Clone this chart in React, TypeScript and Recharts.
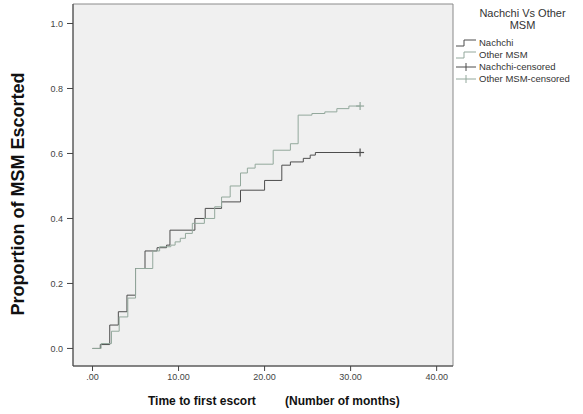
import React from "react";
import { LineChart, Line, XAxis, YAxis, ReferenceArea } from "recharts";

// tick values
const xTicks = [0, 10, 20, 30, 40];
const yTicks = [0, 0.2, 0.4, 0.6, 0.8, 1.0];

// Kaplan-Meier steps (months, cumulative proportion)
const nachchiMonths = [0, 0.9, 2.0, 3.0, 4.0, 5.0, 6.1, 7.5, 8.6, 9.0, 11.9, 13.1, 15.0, 17.2, 20.0, 22.0, 23.0, 24.5, 25.3, 25.9, 31.1];
const nachchiProp = [0, 0.012, 0.072, 0.113, 0.164, 0.246, 0.3, 0.31, 0.318, 0.364, 0.4, 0.431, 0.451, 0.487, 0.517, 0.564, 0.574, 0.585, 0.595, 0.603, 0.603];

const otherMonths = [0, 1.0, 2.2, 3.1, 4.1, 5.0, 7.0, 7.8, 9.1, 9.6, 10.2, 10.8, 11.6, 13.0, 14.2, 15.0, 16.0, 17.2, 18.0, 18.9, 21.0, 23.0, 23.9, 25.5, 27.0, 28.4, 29.8, 31.1];
const otherProp = [0, 0.015, 0.053, 0.097, 0.155, 0.246, 0.3, 0.313, 0.318, 0.328, 0.339, 0.354, 0.385, 0.4, 0.436, 0.466, 0.5, 0.54, 0.555, 0.567, 0.61, 0.63, 0.718, 0.723, 0.728, 0.738, 0.746, 0.746];

const nachchiData = nachchiMonths.map((m, i) => ({ month: m, value: nachchiProp[i] }));
const otherData = otherMonths.map((m, i) => ({ month: m, value: otherProp[i] }));

const NACHCHI = "#4d4d4d";
const OTHER = "#93a89c";
const FONT = "'Liberation Sans', Arial, sans-serif";

const censorDot = (color: string, last: number) => (props: any) => {
  const { cx, cy, index } = props;
  if (index !== last) return <g key={`d-${index}`} />;
  return (
    <g key={`d-${index}`} stroke={color} strokeWidth={1.2}>
      <line x1={cx - 4} x2={cx + 4} y1={cy} y2={cy} />
      <line x1={cx} x2={cx} y1={cy - 4} y2={cy + 4} />
    </g>
  );
};

function StepIcon({ color }: { color: string }) {
  return (
    <svg width={22} height={10} style={{ verticalAlign: "middle" }}>
      <polyline points="0,8 8,8 8,2 20,2" fill="none" stroke={color} strokeWidth={1} />
    </svg>
  );
}

function PlusIcon({ color }: { color: string }) {
  return (
    <svg width={22} height={10} style={{ verticalAlign: "middle" }}>
      <line x1={0} x2={20} y1={5} y2={5} stroke={color} strokeWidth={1} />
      <line x1={10} x2={10} y1={1} y2={9} stroke={color} strokeWidth={1} />
    </svg>
  );
}

const legendItems = [
  { label: "Nachchi", icon: <StepIcon color={NACHCHI} /> },
  { label: "Other MSM", icon: <StepIcon color={OTHER} /> },
  { label: "Nachchi-censored", icon: <PlusIcon color={NACHCHI} /> },
  { label: "Other MSM-censored", icon: <PlusIcon color={OTHER} /> },
];

export default function App() {
  return (
    <div style={{ position: "absolute", left: 0, top: 0, width: 583, height: 414, background: "#fff", fontFamily: FONT }}>
      <LineChart
        width={583}
        height={414}
        margin={{ top: 4, right: 130, bottom: 0, left: 0 }}
        style={{ fontFamily: FONT }}
      >
        <ReferenceArea
          x1={-2.27}
          x2={41.9}
          y1={-0.054}
          y2={1.06}
          fill="#f0f0f0"
          fillOpacity={1}
          stroke="#8a8a8a"
          strokeWidth={1}
        />
        <XAxis
          type="number"
          dataKey="month"
          domain={[-2.27, 41.9]}
          ticks={xTicks}
          allowDataOverflow
          tickFormatter={(v: number) => (v === 0 ? ".00" : v.toFixed(2))}
          axisLine={{ stroke: "#444" }}
          tickLine={{ stroke: "#444" }}
          tickSize={5}
          tickMargin={3}
          tick={{ fontSize: 9, fill: "#444" }}
          height={48}
        />
        <YAxis
          type="number"
          dataKey="value"
          domain={[-0.054, 1.06]}
          ticks={yTicks}
          allowDataOverflow
          tickFormatter={(v: number) => v.toFixed(1)}
          axisLine={{ stroke: "#444" }}
          tickLine={{ stroke: "#444" }}
          tickSize={6}
          tickMargin={4}
          tick={{ fontSize: 9, fill: "#444" }}
          width={73}
        />
        <Line
          data={nachchiData}
          dataKey="value"
          type="stepAfter"
          stroke={NACHCHI}
          strokeWidth={1}
          dot={censorDot(NACHCHI, nachchiData.length - 1)}
          activeDot={false}
          isAnimationActive={false}
        />
        <Line
          data={otherData}
          dataKey="value"
          type="stepAfter"
          stroke={OTHER}
          strokeWidth={1}
          dot={censorDot(OTHER, otherData.length - 1)}
          activeDot={false}
          isAnimationActive={false}
        />
      </LineChart>

      {/* y axis title */}
      <div
        style={{
          position: "absolute",
          left: 18,
          top: 194,
          transform: "translate(-50%, -50%) rotate(-90deg)",
          whiteSpace: "nowrap",
          fontWeight: "bold",
          fontSize: 18,
          color: "#111",
        }}
      >
        Proportion of MSM Escorted
      </div>

      {/* x axis title */}
      <div style={{ position: "absolute", left: 148, top: 394, fontWeight: "bold", fontSize: 12, color: "#111", whiteSpace: "nowrap" }}>
        Time to first escort
      </div>
      <div style={{ position: "absolute", left: 285, top: 394, fontWeight: "bold", fontSize: 12, color: "#111", whiteSpace: "nowrap" }}>
        (Number of months)
      </div>

      {/* legend */}
      <div style={{ position: "absolute", left: 456, top: 7, width: 127, color: "#333" }}>
        <div style={{ textAlign: "center", fontSize: 11, lineHeight: "12px", marginLeft: 6 }}>
          Nachchi Vs Other
          <br />
          MSM
        </div>
        <div style={{ marginTop: 6 }}>
          {legendItems.map((it) => (
            <div key={it.label} style={{ fontSize: 9.5, lineHeight: "12px", whiteSpace: "nowrap", display: "flex", alignItems: "center" }}>
              {it.icon}
              <span style={{ marginLeft: 1 }}>{it.label}</span>
            </div>
          ))}
        </div>
      </div>
    </div>
  );
}
